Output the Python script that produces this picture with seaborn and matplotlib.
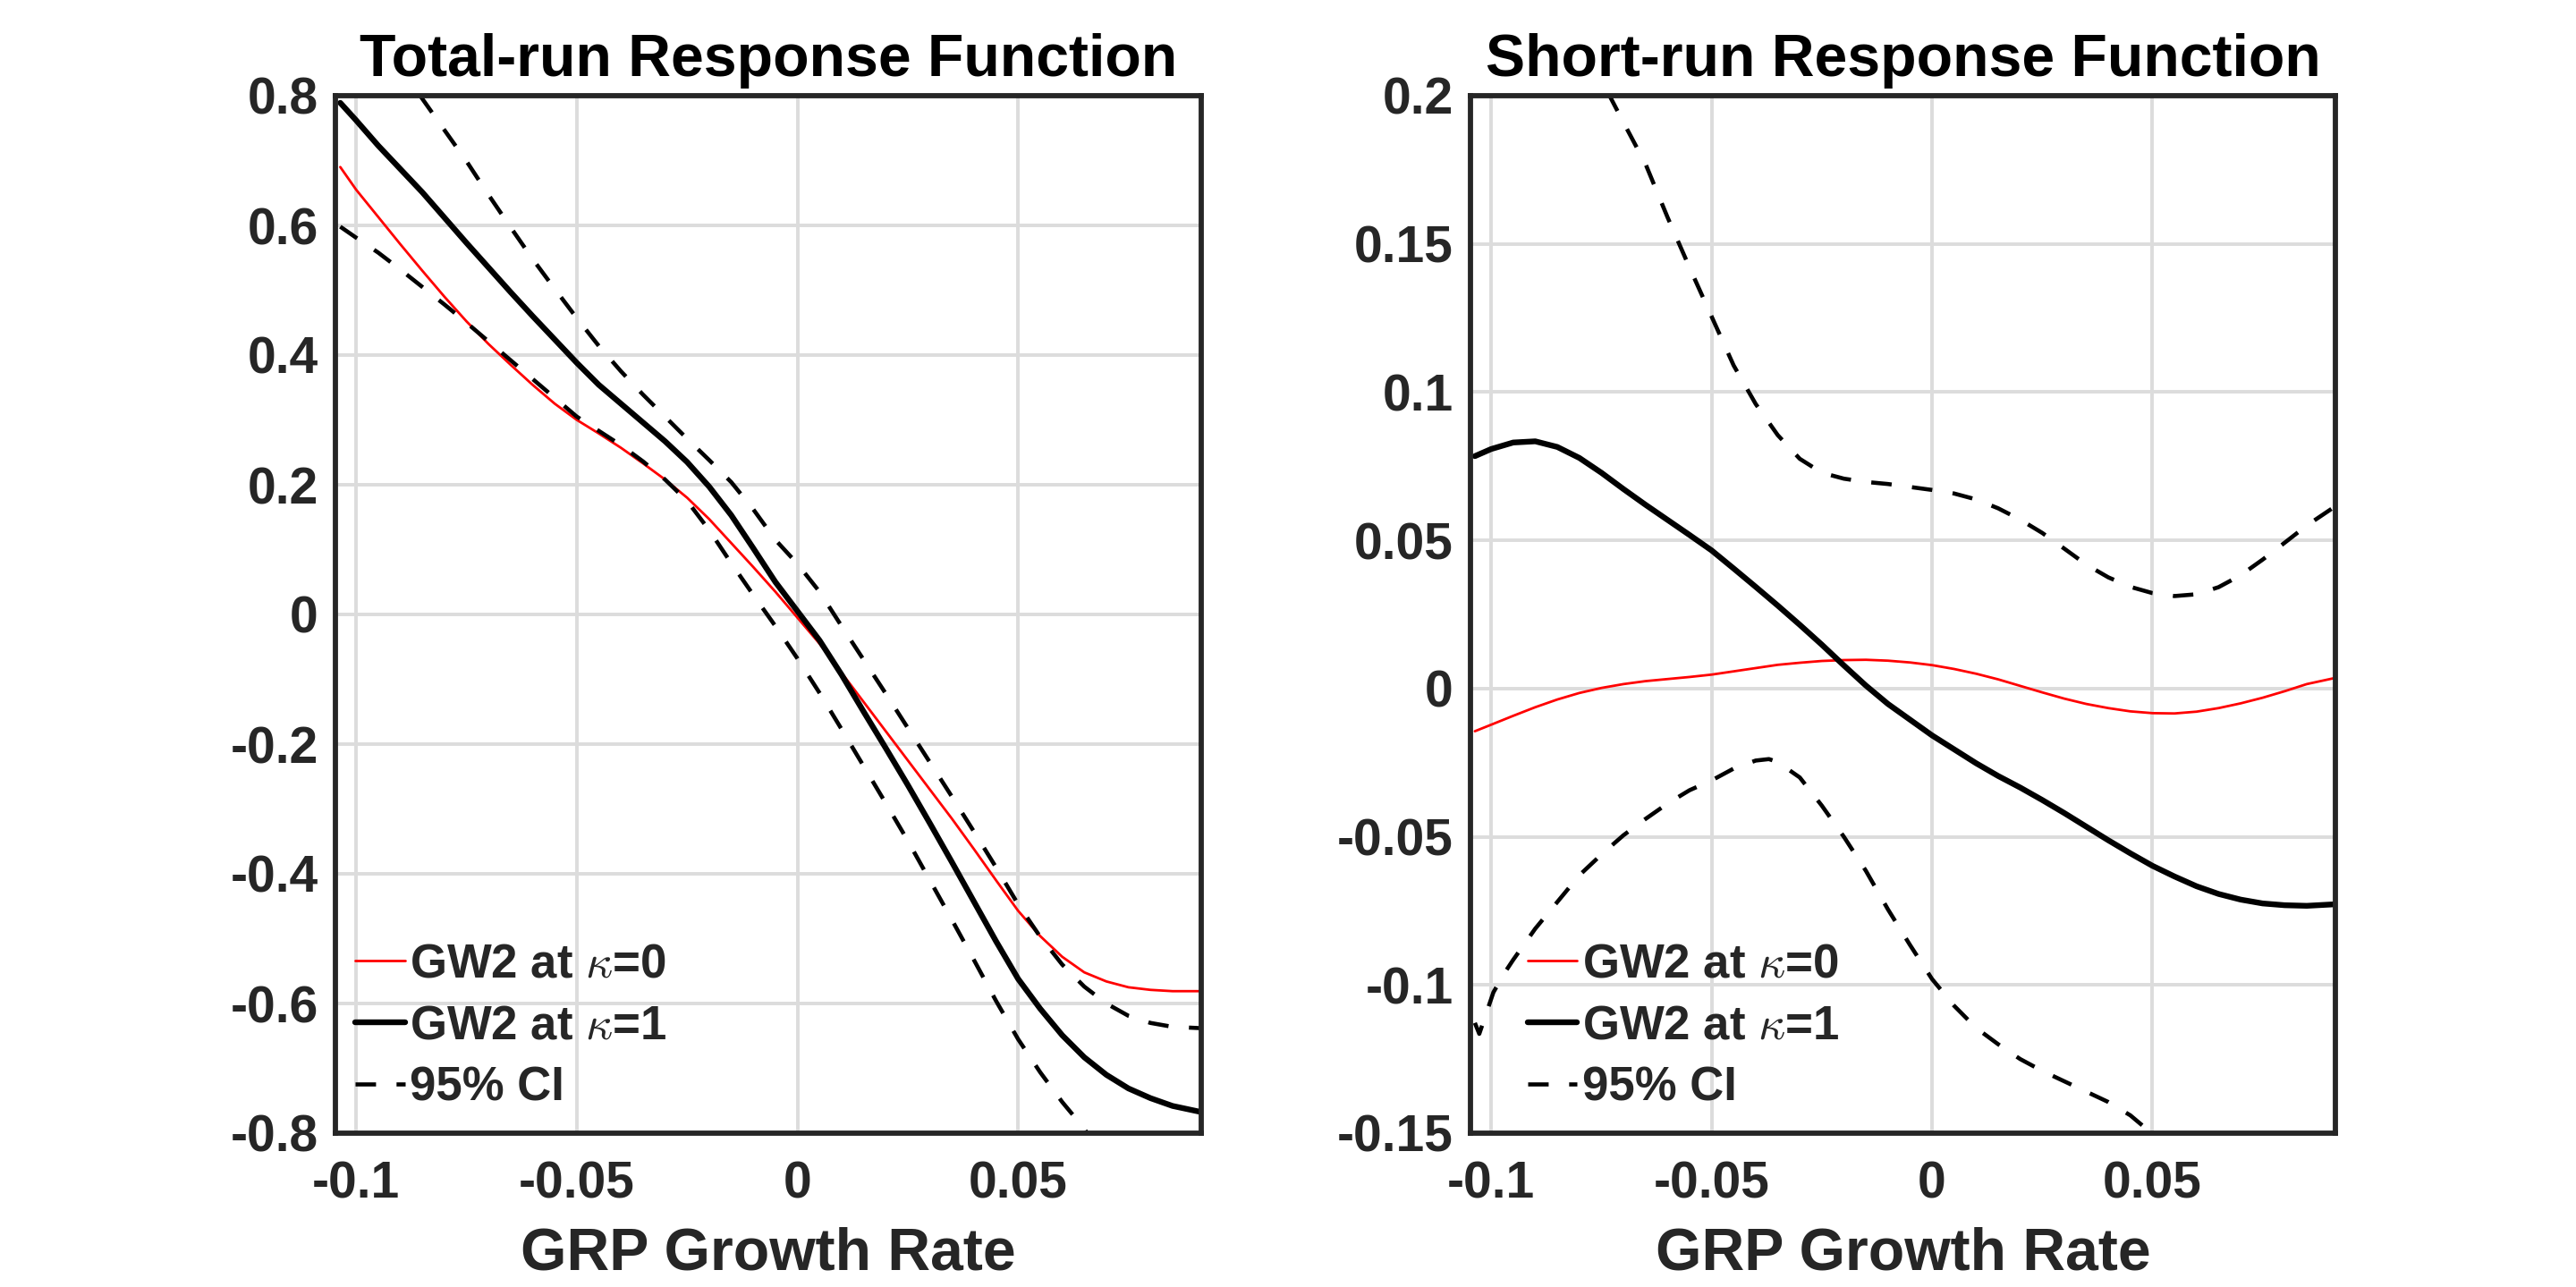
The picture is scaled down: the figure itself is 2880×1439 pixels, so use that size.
import numpy as np
import pandas as pd
import seaborn as sns
import matplotlib.pyplot as plt

# Total-run panel
x_total = [-0.1036, -0.100, -0.095, -0.090, -0.085, -0.080, -0.075, -0.070,
           -0.065, -0.060, -0.055, -0.050, -0.045, -0.040, -0.035, -0.030,
           -0.025, -0.020, -0.015, -0.010, -0.005, 0.000, 0.005, 0.010,
           0.015, 0.020, 0.025, 0.030, 0.035, 0.040, 0.045, 0.050, 0.055,
           0.060, 0.065, 0.070, 0.075, 0.080, 0.085, 0.0912]
total_k0 = [0.690, 0.655, 0.613, 0.571, 0.530, 0.490, 0.452, 0.417, 0.385,
            0.354, 0.325, 0.300, 0.279, 0.257, 0.233, 0.208, 0.180, 0.147,
            0.110, 0.073, 0.035, -0.005, -0.045, -0.090, -0.135, -0.180,
            -0.225, -0.270, -0.315, -0.362, -0.410, -0.457, -0.496, -0.528,
            -0.552, -0.566, -0.575, -0.579, -0.581, -0.581]
total_k1 = [0.789, 0.762, 0.723, 0.687, 0.651, 0.612, 0.573, 0.535, 0.497,
            0.460, 0.424, 0.388, 0.354, 0.325, 0.296, 0.267, 0.235, 0.197,
            0.153, 0.102, 0.050, 0.005, -0.040, -0.093, -0.150, -0.206,
            -0.263, -0.322, -0.382, -0.443, -0.504, -0.562, -0.608, -0.649,
            -0.683, -0.710, -0.731, -0.746, -0.758, -0.767]
x_total_hi = [-0.0855, -0.080, -0.075, -0.070, -0.065, -0.060, -0.055, -0.050,
              -0.045, -0.040, -0.035, -0.030, -0.025, -0.020, -0.015, -0.010,
              -0.005, 0.000, 0.005, 0.010, 0.015, 0.020, 0.025, 0.030, 0.035,
              0.040, 0.045, 0.050, 0.055, 0.060, 0.065, 0.070, 0.075, 0.080,
              0.085, 0.0912]
total_hi = [0.800, 0.747, 0.699, 0.647, 0.597, 0.548, 0.502, 0.457, 0.414,
            0.375, 0.339, 0.305, 0.271, 0.238, 0.204, 0.162, 0.115, 0.078,
            0.035, -0.018, -0.070, -0.122, -0.175, -0.228, -0.281, -0.335,
            -0.390, -0.447, -0.497, -0.540, -0.574, -0.600, -0.619, -0.630,
            -0.636, -0.638]
x_total_lo = [-0.1036, -0.100, -0.095, -0.090, -0.085, -0.080, -0.075, -0.070,
              -0.065, -0.060, -0.055, -0.050, -0.045, -0.040, -0.035, -0.030,
              -0.025, -0.020, -0.015, -0.010, -0.005, 0.000, 0.005, 0.010,
              0.015, 0.020, 0.025, 0.030, 0.035, 0.040, 0.045, 0.050, 0.055,
              0.060, 0.065, 0.067]
total_lo = [0.598, 0.581, 0.558, 0.532, 0.505, 0.478, 0.450, 0.421, 0.392,
            0.363, 0.334, 0.305, 0.283, 0.261, 0.236, 0.208, 0.175, 0.130,
            0.079, 0.030, -0.018, -0.068, -0.121, -0.177, -0.234, -0.291,
            -0.349, -0.410, -0.471, -0.533, -0.596, -0.655, -0.706, -0.752,
            -0.793, -0.815]

# Short-run panel
x_short = [-0.1037, -0.100, -0.095, -0.090, -0.085, -0.080, -0.075, -0.070,
           -0.065, -0.060, -0.055, -0.050, -0.045, -0.040, -0.035, -0.030,
           -0.025, -0.020, -0.015, -0.010, -0.005, 0.000, 0.005, 0.010,
           0.015, 0.020, 0.025, 0.030, 0.035, 0.040, 0.045, 0.050, 0.055,
           0.060, 0.065, 0.070, 0.075, 0.080, 0.085, 0.0912]
short_k0 = [-0.0144, -0.0122, -0.0092, -0.0063, -0.0037, -0.0015, 0.0002,
            0.0015, 0.0025, 0.0032, 0.0039, 0.0047, 0.0058, 0.0069, 0.0080,
            0.0087, 0.0093, 0.0096, 0.0097, 0.0094, 0.0088, 0.0079, 0.0066,
            0.0050, 0.0031, 0.0009, -0.0013, -0.0034, -0.0052, -0.0066,
            -0.0077, -0.0083, -0.0084, -0.0078, -0.0066, -0.0050, -0.0031,
            -0.0009, 0.0015, 0.0035]
short_k1 = [0.0784, 0.0808, 0.0830, 0.0834, 0.0815, 0.0778, 0.0728, 0.0673,
            0.0620, 0.0569, 0.0518, 0.0466, 0.0405, 0.0343, 0.0280, 0.0215,
            0.0148, 0.0078, 0.0010, -0.0052, -0.0105, -0.0158, -0.0205,
            -0.0252, -0.0295, -0.0334, -0.0376, -0.0420, -0.0466, -0.0512,
            -0.0556, -0.0598, -0.0634, -0.0667, -0.0693, -0.0712, -0.0725,
            -0.0731, -0.0733, -0.0728]
x_short_hi = [-0.0735, -0.070, -0.065, -0.060, -0.055, -0.050, -0.045, -0.040,
              -0.035, -0.030, -0.025, -0.020, -0.015, -0.010, -0.005, 0.000,
              0.005, 0.010, 0.015, 0.020, 0.025, 0.030, 0.035, 0.040, 0.045,
              0.050, 0.055, 0.060, 0.065, 0.070, 0.075, 0.080, 0.085, 0.0912]
short_hi = [0.201, 0.191, 0.177, 0.159, 0.142, 0.1255, 0.109, 0.096, 0.0855,
            0.0775, 0.0728, 0.0708, 0.0697, 0.0690, 0.0680, 0.0670, 0.0658,
            0.0638, 0.0608, 0.0570, 0.0525, 0.0472, 0.0418, 0.0375, 0.0343,
            0.0322, 0.0312, 0.0318, 0.0342, 0.0382, 0.0435, 0.0492, 0.0550,
            0.0612]
x_short_lo = [-0.1037, -0.1027, -0.0995, -0.097, -0.095, -0.090, -0.085,
              -0.080, -0.075, -0.070, -0.065, -0.060, -0.055, -0.050, -0.045,
              -0.040, -0.037, -0.035, -0.030, -0.025, -0.020, -0.015, -0.010,
              -0.005, 0.000, 0.005, 0.010, 0.015, 0.020, 0.025, 0.030, 0.035,
              0.040, 0.045, 0.051]
short_lo = [-0.1128, -0.1165, -0.1025, -0.0960, -0.0915, -0.0810, -0.0720,
            -0.0630, -0.0560, -0.0495, -0.0440, -0.0388, -0.0343, -0.0310,
            -0.0270, -0.0243, -0.0238, -0.0248, -0.0300, -0.0395, -0.0500,
            -0.0615, -0.0745, -0.0865, -0.0980, -0.1070, -0.1145, -0.1200,
            -0.1250, -0.1290, -0.1325, -0.1360, -0.1395, -0.1440, -0.1515]

x_ticks = [-0.1, -0.05, 0, 0.05]
x_ticklabels = ["-0.1", "-0.05", "0", "0.05"]
total_yticks = [-0.8, -0.6, -0.4, -0.2, 0, 0.2, 0.4, 0.6, 0.8]
total_yticklabels = ["-0.8", "-0.6", "-0.4", "-0.2", "0", "0.2", "0.4", "0.6", "0.8"]
short_yticks = [-0.15, -0.1, -0.05, 0, 0.05, 0.1, 0.15, 0.2]
short_yticklabels = ["-0.15", "-0.1", "-0.05", "0", "0.05", "0.1", "0.15", "0.2"]

sns.set_style("whitegrid")
plt.rcParams["font.family"] = ["Liberation Sans", "DejaVu Sans"]
plt.rcParams["font.weight"] = "bold"
plt.rcParams["mathtext.fontset"] = "cm"

DARK = "#262626"
DASH = (0, (5.0, 5.0))


def draw_panel(ax, xs, k0, k1, xhi, hi, xlo, lo, yticks, yticklabels, ylim,
               title, legend_x):
    sns.lineplot(x=xs, y=k0, ax=ax, color="red", linewidth=1.0,
                 label=r"GW2 at $\kappa$=0")
    sns.lineplot(x=xs, y=k1, ax=ax, color="black", linewidth=2.3,
                 label=r"GW2 at $\kappa$=1")
    sns.lineplot(x=xhi, y=hi, ax=ax, color="black", linewidth=1.65,
                 linestyle=DASH, label="95% CI")
    sns.lineplot(x=xlo, y=lo, ax=ax, color="black", linewidth=1.65,
                 linestyle=DASH)
    ax.set_xlim(-0.1047, 0.0915)
    ax.set_ylim(*ylim)
    ax.set_xticks(x_ticks)
    ax.set_xticklabels(x_ticklabels)
    ax.set_yticks(yticks)
    ax.set_yticklabels(yticklabels)
    ax.grid(True, color="#dcdcdc", linewidth=1.4)
    ax.set_axisbelow(True)
    for side in ["left", "right", "top", "bottom"]:
        ax.spines[side].set_visible(True)
        ax.spines[side].set_color(DARK)
        ax.spines[side].set_linewidth(2.1)
    ax.tick_params(axis="both", length=0, labelsize=20.5, colors=DARK)
    ax.tick_params(axis="y", pad=7)
    ax.tick_params(axis="x", pad=11)
    for lab in ax.get_xticklabels() + ax.get_yticklabels():
        lab.set_fontweight("bold")
    ax.set_title(title, fontsize=23.8, fontweight="bold", color="black", pad=8)
    ax.set_xlabel("GRP Growth Rate", fontsize=23.8, fontweight="bold",
                  color=DARK, labelpad=7)
    ax.set_ylabel("")
    ax.legend(loc="lower left", bbox_to_anchor=(legend_x, 0.022), frameon=False,
              prop={"size": 19, "weight": "bold"}, handlelength=1.05,
              handletextpad=0.1, labelspacing=0.36, borderpad=0,
              borderaxespad=0)


fig = plt.figure(figsize=(14.4, 7.195), dpi=200)
bottom = 1 - 1267 / 1439
height = 1160 / 1439
ax1 = fig.add_axes([375 / 2880, bottom, 968 / 2880, height])
ax2 = fig.add_axes([1644 / 2880, bottom, 967 / 2880, height])

draw_panel(ax1, x_total, total_k0, total_k1, x_total_hi, total_hi,
           x_total_lo, total_lo, total_yticks, total_yticklabels, (-0.8, 0.8),
           "Total-run Response Function", 0.023)
draw_panel(ax2, x_short, short_k0, short_k1, x_short_hi, short_hi,
           x_short_lo, short_lo, short_yticks, short_yticklabels, (-0.15, 0.2),
           "Short-run Response Function", 0.066)

fig.savefig("out.png", dpi=200, facecolor="white")
